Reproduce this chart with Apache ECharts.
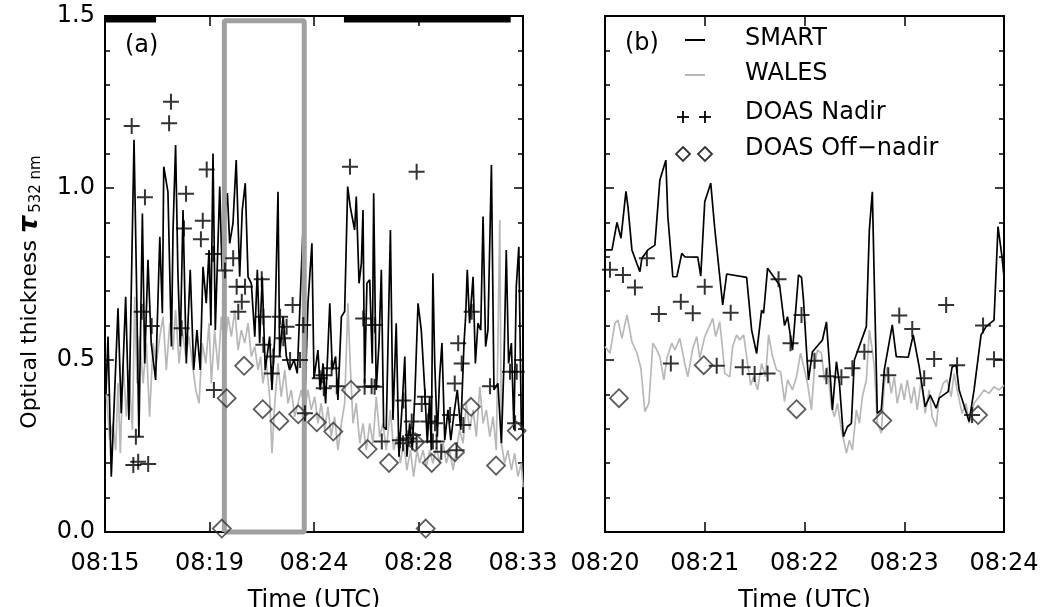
<!DOCTYPE html>
<html><head><meta charset="utf-8">
<script src="https://cdn.jsdelivr.net/npm/echarts@6/dist/echarts.min.js"></script>
<style>html,body{margin:0;padding:0;background:#fff}#c{width:1043px;height:607px}</style>
</head><body><div id="c"></div>
<script>
// All times are minutes after 08:00 UTC; values are optical thickness at 532 nm.
const smartA = [[15.04,0.40],[15.13,0.568],[15.27,0.161],[15.56,0.65],[15.70,0.345],[15.89,0.684],[16.03,0.326],[16.25,1.14],[16.35,0.752],[16.46,0.277],[16.61,0.926],[16.71,0.49],[16.85,0.791],[16.99,0.549],[17.18,0.442],[17.36,0.858],[17.47,0.636],[17.53,1.062],[17.71,0.989],[17.86,0.539],[17.93,0.878],[18.04,1.125],[18.14,0.752],[18.24,0.539],[18.36,0.936],[18.50,0.49],[18.67,0.762],[18.82,0.471],[18.96,0.587],[19.10,0.471],[19.22,0.771],[19.36,0.665],[19.48,0.82],[19.56,0.60],[19.65,1.10],[19.75,0.587],[19.94,1.004],[20.04,0.762],[20.15,0.917],[20.27,0.985],[20.37,0.839],[20.51,0.897],[20.65,1.081],[20.80,0.742],[20.91,0.936],[21.04,1.014],[21.16,0.742],[21.30,0.723],[21.45,0.568],[21.56,0.762],[21.66,0.549],[21.77,0.742],[21.90,0.471],[22.09,0.568],[22.19,0.413],[22.31,0.568],[22.45,0.989],[22.52,0.51],[22.67,0.626],[22.81,0.51],[22.95,0.471],[23.14,0.50],[23.28,0.461],[23.53,0.888],[23.63,0.432],[23.74,0.665],[23.91,0.839],[24.00,0.447],[24.17,0.529],[24.27,0.413],[24.39,0.49],[24.50,0.374],[24.68,0.665],[24.79,0.471],[24.93,0.51],[25.03,0.384],[25.18,0.626],[25.32,0.641],[25.45,1.004],[25.56,0.946],[25.75,0.878],[25.82,0.975],[25.94,0.723],[26.04,0.781],[26.11,0.936],[26.18,0.432],[26.28,0.723],[26.40,0.733],[26.51,0.49],[26.57,0.985],[26.68,0.413],[26.80,0.549],[26.90,0.762],[27.00,0.306],[27.11,0.297],[27.29,0.878],[27.40,0.326],[27.54,0.607],[27.66,0.219],[27.80,0.374],[27.91,0.51],[28.00,0.219],[28.12,0.316],[28.23,0.238],[28.34,0.393],[28.48,0.665],[28.62,0.587],[28.77,0.413],[28.88,0.258],[28.98,0.393],[29.05,0.238],[29.12,0.752],[29.20,0.49],[29.31,0.277],[29.41,0.451],[29.51,0.549],[29.63,0.267],[29.77,0.355],[29.89,0.267],[30.03,0.345],[30.17,0.413],[30.32,0.297],[30.46,0.549],[30.53,0.626],[30.60,0.762],[30.70,0.607],[30.85,0.742],[30.95,0.49],[31.06,0.607],[31.18,0.587],[31.28,0.917],[31.39,0.539],[31.49,0.587],[31.64,1.067],[31.75,0.413],[31.92,0.432],[32.07,0.258],[32.18,0.49],[32.28,0.82],[32.38,0.49],[32.50,0.549],[32.61,0.297],[32.71,0.713],[32.82,0.829],[32.93,0.297],[33.00,0.30]];
const walesA = [[15.06,0.403],[15.20,0.267],[15.34,0.316],[15.46,0.238],[15.56,0.432],[15.66,0.229],[15.78,0.49],[15.92,0.335],[16.03,0.471],[16.18,0.297],[16.28,0.684],[16.38,0.432],[16.49,0.568],[16.64,0.432],[16.78,0.549],[16.92,0.335],[17.07,0.549],[17.21,0.49],[17.36,0.568],[17.50,0.626],[17.64,0.471],[17.79,0.607],[17.93,0.529],[18.04,0.645],[18.19,0.49],[18.33,0.587],[18.48,0.51],[18.62,0.568],[18.76,0.49],[18.91,0.413],[19.05,0.374],[19.19,0.549],[19.34,0.49],[19.48,0.607],[19.58,0.432],[19.72,0.587],[19.87,0.471],[20.01,0.626],[20.15,0.529],[20.30,0.626],[20.44,0.568],[20.59,0.645],[20.73,0.529],[20.87,0.587],[21.02,0.549],[21.16,0.607],[21.30,0.51],[21.45,0.539],[21.59,0.471],[21.70,0.51],[21.80,0.432],[21.95,0.49],[22.09,0.393],[22.19,0.229],[22.31,0.374],[22.45,0.49],[22.59,0.393],[22.74,0.471],[22.88,0.374],[23.02,0.413],[23.17,0.335],[23.31,0.374],[23.45,0.413],[23.60,0.355],[23.74,0.413],[23.88,0.355],[24.03,0.393],[24.17,0.316],[24.31,0.374],[24.46,0.297],[24.60,0.364],[24.74,0.277],[24.89,0.335],[25.03,0.238],[25.18,0.316],[25.32,0.374],[25.46,0.665],[25.56,0.49],[25.68,0.316],[25.82,0.374],[25.97,0.258],[26.11,0.316],[26.25,0.238],[26.40,0.316],[26.54,0.258],[26.68,0.393],[26.83,0.277],[26.97,0.316],[27.11,0.238],[27.29,0.355],[27.43,0.238],[27.57,0.277],[27.72,0.20],[27.86,0.258],[28.00,0.18],[28.15,0.238],[28.29,0.161],[28.44,0.238],[28.55,0.20],[28.69,0.238],[28.84,0.19],[28.98,0.238],[29.12,0.20],[29.27,0.248],[29.41,0.20],[29.56,0.258],[29.70,0.20],[29.84,0.238],[29.99,0.18],[30.13,0.238],[30.27,0.297],[30.42,0.258],[30.56,0.374],[30.70,0.297],[30.85,0.355],[30.99,0.277],[31.14,0.422],[31.28,0.316],[31.42,0.355],[31.57,0.277],[31.71,0.335],[31.85,0.238],[32.00,0.907],[32.07,0.258],[32.21,0.20],[32.35,0.238],[32.50,0.18],[32.64,0.229],[32.78,0.161],[32.93,0.20],[33.00,0.13]];
const nadirA = [[16.15,1.18],[16.72,0.973],[17.84,1.251],[17.76,1.188],[18.49,0.983],[19.38,1.054],[19.21,0.905],[18.40,0.882],[19.13,0.851],[19.66,0.808],[20.17,0.76],[20.52,0.796],[25.55,1.062],[28.42,1.047],[16.33,0.277],[16.22,0.195],[16.43,0.204],[16.86,0.198],[16.58,0.64],[17.01,0.599],[18.30,0.592],[19.69,0.413],[20.67,0.713],[21.03,0.713],[20.89,0.669],[20.74,0.64],[21.75,0.735],[21.82,0.626],[21.82,0.544],[22.25,0.51],[22.18,0.461],[22.54,0.626],[22.82,0.597],[23.08,0.66],[22.68,0.563],[22.97,0.50],[23.40,0.50],[23.61,0.345],[23.54,0.602],[24.40,0.456],[24.76,0.476],[24.98,0.424],[24.42,0.418],[26.12,0.621],[26.63,0.602],[26.48,0.424],[26.92,0.263],[27.85,0.382],[27.70,0.267],[28.06,0.272],[28.64,0.372],[28.78,0.393],[28.92,0.321],[29.21,0.316],[29.28,0.263],[29.86,0.34],[30.14,0.238],[30.06,0.432],[30.36,0.49],[30.21,0.549],[30.79,0.64],[30.43,0.311],[31.58,0.424],[32.44,0.466],[32.73,0.466],[32.66,0.316],[28.21,0.321],[28.42,0.263],[24.25,0.447],[26.18,0.422],[26.61,0.422],[28.26,0.282],[27.83,0.258],[29.48,0.233],[29.12,0.263]];
const offNadirA = [[20.03,0.01],[20.24,0.389],[20.99,0.483],[21.79,0.357],[22.51,0.323],[23.32,0.342],[24.12,0.319],[24.83,0.292],[25.59,0.413],[26.31,0.241],[27.23,0.201],[28.35,0.261],[28.81,0.01],[29.07,0.201],[30.07,0.232],[30.76,0.364],[31.84,0.193],[32.73,0.294]];

const smartB = [[20.00,0.82],[20.07,0.82],[20.12,0.90],[20.16,0.854],[20.21,0.99],[20.23,0.946],[20.27,0.82],[20.32,0.78],[20.35,0.757],[20.37,0.796],[20.43,0.82],[20.50,0.834],[20.55,1.023],[20.61,1.081],[20.63,0.917],[20.68,0.742],[20.72,0.742],[20.77,0.81],[20.80,0.80],[20.93,0.799],[20.96,0.744],[21.00,0.96],[21.06,1.014],[21.10,0.883],[21.12,0.888],[21.18,0.66],[21.22,0.75],[21.42,0.74],[21.47,0.587],[21.52,0.519],[21.57,0.645],[21.59,0.636],[21.63,0.767],[21.75,0.718],[21.80,0.60],[21.83,0.626],[21.88,0.529],[21.94,0.747],[21.97,0.74],[21.99,0.674],[22.02,0.529],[22.04,0.442],[22.08,0.524],[22.18,0.558],[22.22,0.611],[22.25,0.49],[22.28,0.355],[22.32,0.495],[22.35,0.432],[22.39,0.277],[22.43,0.306],[22.47,0.316],[22.50,0.50],[22.62,0.597],[22.65,0.878],[22.68,0.989],[22.70,0.723],[22.73,0.345],[22.77,0.355],[22.80,0.471],[22.88,0.602],[22.92,0.51],[23.04,0.508],[23.09,0.573],[23.15,0.48],[23.21,0.364],[23.26,0.398],[23.32,0.36],[23.35,0.389],[23.44,0.408],[23.48,0.48],[23.52,0.485],[23.55,0.413],[23.65,0.321],[23.70,0.413],[23.77,0.573],[23.82,0.597],[23.90,0.616],[23.94,0.888],[23.98,0.80],[24.00,0.742]];
const walesB = [[20.00,0.539],[20.05,0.52],[20.10,0.607],[20.13,0.616],[20.17,0.563],[20.22,0.631],[20.27,0.553],[20.32,0.52],[20.36,0.476],[20.40,0.35],[20.44,0.374],[20.48,0.549],[20.52,0.529],[20.55,0.51],[20.59,0.442],[20.62,0.505],[20.67,0.549],[20.70,0.529],[20.75,0.563],[20.80,0.49],[20.83,0.451],[20.88,0.534],[20.92,0.568],[20.95,0.505],[21.00,0.568],[21.03,0.587],[21.08,0.621],[21.11,0.568],[21.15,0.611],[21.18,0.529],[21.20,0.461],[21.25,0.451],[21.28,0.539],[21.32,0.573],[21.35,0.558],[21.39,0.573],[21.42,0.51],[21.46,0.427],[21.49,0.451],[21.53,0.413],[21.57,0.49],[21.61,0.451],[21.64,0.573],[21.68,0.51],[21.72,0.471],[21.76,0.466],[21.80,0.379],[21.83,0.442],[21.88,0.413],[21.92,0.451],[21.96,0.52],[22.00,0.471],[22.03,0.432],[22.07,0.355],[22.10,0.48],[22.13,0.529],[22.17,0.52],[22.20,0.442],[22.23,0.48],[22.27,0.364],[22.30,0.335],[22.33,0.374],[22.37,0.297],[22.40,0.258],[22.42,0.229],[22.45,0.267],[22.48,0.238],[22.52,0.355],[22.55,0.316],[22.58,0.393],[22.62,0.442],[22.65,0.587],[22.68,0.529],[22.70,0.48],[22.73,0.316],[22.77,0.287],[22.80,0.432],[22.83,0.48],[22.87,0.403],[22.90,0.451],[22.93,0.374],[22.97,0.432],[23.00,0.384],[23.03,0.442],[23.07,0.374],[23.10,0.422],[23.13,0.355],[23.17,0.442],[23.21,0.345],[23.25,0.413],[23.28,0.335],[23.32,0.306],[23.35,0.393],[23.39,0.432],[23.43,0.442],[23.47,0.393],[23.50,0.461],[23.53,0.413],[23.58,0.345],[23.62,0.374],[23.65,0.316],[23.70,0.374],[23.75,0.393],[23.80,0.413],[23.85,0.403],[23.90,0.422],[23.95,0.413],[24.00,0.427]];
const nadirB = [[20.05,0.762],[20.18,0.747],[20.30,0.711],[20.42,0.796],[20.54,0.634],[20.76,0.669],[20.88,0.636],[21.00,0.713],[21.26,0.637],[21.74,0.735],[21.97,0.631],[21.86,0.549],[20.66,0.49],[21.12,0.483],[21.38,0.479],[21.50,0.459],[21.63,0.461],[22.10,0.498],[22.22,0.453],[22.37,0.45],[22.48,0.476],[22.60,0.524],[22.84,0.456],[22.95,0.629],[23.08,0.59],[23.20,0.447],[23.30,0.503],[23.42,0.66],[23.53,0.485],[23.68,0.34],[23.79,0.60],[23.90,0.502]];
const offNadirB = [[20.14,0.389],[20.99,0.485],[21.92,0.357],[22.78,0.324],[23.74,0.34]];

// flight-leg bars along the top of panel (a) and the zoom box (start, end in minutes after 08:00)
const topBars = [[15.0,17.2],[25.29,32.47]];
const zoomBox = [20.14,23.58];
const barLevel = 1.491, boxTop = 1.486;

const yTicks = [0,0.5,1.0,1.5];
const xLabelsA = ['08:15','08:19','08:24','08:28','08:33'];
const xLabelsB = ['08:20','08:21','08:22','08:23','08:24'];
const legendNames = ['SMART','WALES','DOAS Nadir','DOAS Off\u2212nadir'];
const yTitle = ['Optical thickness ', '\u03c4', '532 nm'];

const A0 = 15; // panel (a) axis origin (08:15)
const FONT = 'DejaVu Sans';
const shiftA = arr => arr.map(p => [p[0]-A0, p[1]]);

const axisLine = {show:true, onZero:false, lineStyle:{color:'#000', width:2}};
const tick = {show:true, inside:true, length:10, lineStyle:{color:'#000', width:1.5}};
const lbl = {fontFamily:FONT, fontSize:24, color:'#000'};

function xAx(grid, min, max, interval, labels, pos){
  const a = {gridIndex:grid, type:'value', min, max, interval, position:pos,
    axisLine, axisTick:tick, splitLine:{show:false},
    axisLabel: pos==='bottom' ? Object.assign({margin:20, showMinLabel:true, showMaxLabel:true,
      formatter:(v)=>labels[Math.round((v-min)/interval)]}, lbl) : {show:false}};
  if(pos==='bottom'){ a.name='Time (UTC)'; a.nameLocation='middle'; a.nameGap=57; a.nameTextStyle=Object.assign({}, lbl); }
  return a;
}
function yAx(grid, pos, withLabels){
  return {gridIndex:grid, type:'value', min:0, max:1.5, interval:0.5, position:pos,
    axisLine, axisTick:Object.assign({}, tick, {length:9}),
    minorTick:{show:true, splitNumber:5, length:5, lineStyle:{color:'#000', width:1.5}},
    splitLine:{show:false}, minorSplitLine:{show:false},
    axisLabel: withLabels ? Object.assign({margin:10, formatter:(v)=>yTicks.find(t=>Math.abs(t-v)<1e-6).toFixed(1)}, lbl) : {show:false}};
}

const plusSym = 'path://M6,0L6,12M0,6L12,6';
function lineS(data, xi, color, w){
  return {type:'line', xAxisIndex:xi, yAxisIndex:xi, data, showSymbol:false, symbol:'none', silent:true,
    lineStyle:{color, width:w}, z:2, animation:false};
}
function plusS(data, xi){
  return {type:'scatter', xAxisIndex:xi, yAxisIndex:xi, data, symbol:plusSym, symbolSize:16, silent:true,
    itemStyle:{color:'rgba(0,0,0,0)', borderColor:'#000', borderWidth:2}, z:4, animation:false};
}
function diaS(data, xi){
  return {type:'scatter', xAxisIndex:xi, yAxisIndex:xi, data, symbol:'diamond', symbolSize:18, silent:true,
    itemStyle:{color:'rgba(0,0,0,0)', borderColor:'#333', borderWidth:1.8}, z:5, animation:false, clip:false};
}

const series = [
  lineS(shiftA(walesA), 0, '#b8b8b8', 1.7),
  lineS(shiftA(smartA), 0, '#000', 1.7),
  plusS(shiftA(nadirA), 0),
  diaS(shiftA(offNadirA), 0),
  lineS(walesB, 2, '#b8b8b8', 1.7),
  lineS(smartB, 2, '#000', 1.7),
  plusS(nadirB, 2),
  diaS(offNadirB, 2)
];
topBars.forEach(b => {
  const s = lineS([[b[0]-A0, barLevel],[b[1]-A0, barLevel]], 0, '#000', 7);
  s.clip = false; s.z = 6; series.push(s);
});
const box = lineS([[zoomBox[0]-A0,0],[zoomBox[0]-A0,boxTop],[zoomBox[1]-A0,boxTop],[zoomBox[1]-A0,0],[zoomBox[0]-A0,0]], 0, '#a0a0a0', 5);
box.clip = false; box.z = 3; series.push(box);

// legend drawn inside panel (b)
const lgX = 685, lgTextX = 745, rows = [39, 74, 113, 149];
const gfx = [
  {type:'text', x:125, y:46, style:{text:'(a)', fill:'#000', font:'24px '+FONT, verticalAlign:'middle'}},
  {type:'text', x:625, y:44, style:{text:'(b)', fill:'#000', font:'24px '+FONT, verticalAlign:'middle'}},
  {type:'line', shape:{x1:lgX, y1:rows[0]+1, x2:lgX+20, y2:rows[0]+1}, style:{stroke:'#000', lineWidth:2}},
  {type:'line', shape:{x1:lgX, y1:rows[1]+1, x2:lgX+20, y2:rows[1]+1}, style:{stroke:'#b8b8b8', lineWidth:2}},
  // rotated y-axis title
  {type:'text', x:30, y:292, rotation:Math.PI/2,
   style:{text:yTitle[0]+'{t|'+yTitle[1]+'}{s|'+yTitle[2]+'}', fill:'#000', font:'22px '+FONT, align:'center', verticalAlign:'middle',
     rich:{t:{font:'italic bold 27px '+FONT, fill:'#000'},
           s:{font:'15px '+FONT, fill:'#000', verticalAlign:'bottom', padding:[12,0,0,3]}}}}
];
[lgX-2, lgX+20].forEach(cx => {
  gfx.push({type:'line', shape:{x1:cx-6, y1:rows[2]+4, x2:cx+6, y2:rows[2]+4}, style:{stroke:'#000', lineWidth:1.8}});
  gfx.push({type:'line', shape:{x1:cx, y1:rows[2]-2, x2:cx, y2:rows[2]+10}, style:{stroke:'#000', lineWidth:1.8}});
  gfx.push({type:'polygon', shape:{points:[[cx,rows[3]-2],[cx+7,rows[3]+5],[cx,rows[3]+12],[cx-7,rows[3]+5]]}, style:{fill:'none', stroke:'#333', lineWidth:1.8}});
});
legendNames.forEach((n,i) => gfx.push({type:'text', x:lgTextX, y:rows[i], style:{text:n, fill:'#000', font:'24px '+FONT, verticalAlign:'middle'}}));

const chart = echarts.init(document.getElementById('c'), null, {renderer:'canvas'});
chart.setOption({
  backgroundColor:'#fff',
  animation:false,
  grid:[{left:105, top:16, width:418, height:516, containLabel:false, outerBoundsMode:'none'},
        {left:605, top:16, width:399, height:516, containLabel:false, outerBoundsMode:'none'}],
  xAxis:[xAx(0,0,18,4.5,xLabelsA,'bottom'), xAx(0,0,18,4.5,xLabelsA,'top'),
         xAx(1,20,24,1,xLabelsB,'bottom'), xAx(1,20,24,1,xLabelsB,'top')],
  yAxis:[yAx(0,'left',true), yAx(0,'right',false), yAx(1,'left',false), yAx(1,'right',false)],
  series,
  graphic: gfx
});
</script>
</body></html>
